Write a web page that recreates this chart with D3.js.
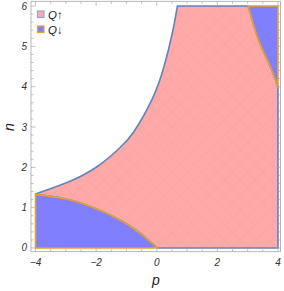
<!DOCTYPE html>
<html><head><meta charset="utf-8">
<script src="https://cdn.jsdelivr.net/npm/d3@7"></script>
<style>body{margin:0;background:#fff}svg{display:block}</style>
</head><body>
<svg id="c" width="284" height="291"></svg>
<script>
// Boundary curves: [p, n]
const upperLeftCurve = [[-4,1.34],[-2.9,1.64],[-1.96,2.02],[-1.25,2.46],[-0.75,2.89],[-0.14,3.71],[0.24,4.5],[0.52,5.35],[0.68,6]];
const lowerLeftCurve = [[-4,1.33],[-2.95,1.21],[-1.96,0.96],[-0.97,0.59],[-0.31,0.22],[0.02,0]];
const upperRightCurve = [[3.02,6],[3.27,5.35],[3.53,4.86],[3.77,4.45],[4,4]];
const xTicks = [-4,-2,0,2,4];
const yTicks = [0,1,2,3,4,5,6];
const legendLabels = ["Q↑","Q↓"];

const svg = d3.select("#c");
const x = d3.scaleLinear().domain([-4.149,4.083]).range([31,280.5]);
const y = d3.scaleLinear().domain([-0.092,6.117]).range([251.7,1.3]);

const pink="#ffaaaa", blue="#8080ff", edgeBlue="#5f85bd", orange="#e3a032";
const line = d3.line().x(d=>x(d[0])).y(d=>y(d[1])).curve(d3.curveNatural);
const straight = d3.line().x(d=>x(d[0])).y(d=>y(d[1]));

function pathOf(pieces){
  return pieces.map((p,i)=>{
    let s = (p.curve?line:straight)(p.pts);
    if(i>0) s = "L" + s.slice(1);
    return s;
  }).join("") + "Z";
}

// Pink region Q↑
const pinkPath = pathOf([
  {pts:upperLeftCurve, curve:true},
  {pts:[[0.68,6],[3.02,6]]},
  {pts:upperRightCurve, curve:true},
  {pts:[[4,4],[4,0],[0.02,0]]},
  {pts:lowerLeftCurve.slice().reverse(), curve:true}
]);
svg.append("defs").append("clipPath").attr("id","pk").append("path").attr("d",pinkPath);
svg.append("path").attr("d",pinkPath).attr("fill",pink);

// faint mesh inside pink region
const mesh = svg.append("g").attr("clip-path","url(#pk)").attr("stroke","#f08c8c").attr("stroke-width",0.5).attr("opacity",0.35);
for(let k=-10;k<=10;k+=0.5){
  mesh.append("line").attr("x1",x(k-8)).attr("y1",y(-8*0.75)).attr("x2",x(k+8)).attr("y2",y(8*0.75));
  mesh.append("line").attr("x1",x(k-8)).attr("y1",y(8*0.75)).attr("x2",x(k+8)).attr("y2",y(-8*0.75));
}
svg.append("path").attr("d",pinkPath).attr("fill","none").attr("stroke",edgeBlue).attr("stroke-width",1.6).attr("stroke-linejoin","round");

// Blue regions Q↓
const blueLL = pathOf([
  {pts:lowerLeftCurve, curve:true},
  {pts:[[0.02,0],[-4,0],[-4,1.33]]}
]);
const blueUR = pathOf([
  {pts:upperRightCurve, curve:true},
  {pts:[[4,4],[4,6],[3.02,6]]}
]);
[blueLL,blueUR].forEach(d=>{
  svg.append("path").attr("d",d).attr("fill",blue).attr("stroke",orange).attr("stroke-width",1.6).attr("stroke-linejoin","round");
});

// Frame
const fx0=31, fx1=280.5, fy0=1.3, fy1=251.7;
svg.append("rect").attr("x",fx0).attr("y",fy0).attr("width",fx1-fx0).attr("height",fy1-fy0)
  .attr("fill","none").attr("stroke","#a6a6a6").attr("stroke-width",0.8);

const tk = svg.append("g").attr("stroke","#a6a6a6").attr("stroke-width",0.7);
d3.range(-4,4.001,0.5).forEach(v=>{
  const major = Math.abs(v/2-Math.round(v/2))<1e-6;
  const L = major?4.5:2.5;
  tk.append("line").attr("x1",x(v)).attr("x2",x(v)).attr("y1",fy1).attr("y2",fy1-L);
  tk.append("line").attr("x1",x(v)).attr("x2",x(v)).attr("y1",fy0).attr("y2",fy0+L);
});
d3.range(0,6.001,0.2).forEach(v=>{
  const major = Math.abs(v-Math.round(v))<1e-6;
  const L = major?4.5:2.5;
  tk.append("line").attr("y1",y(v)).attr("y2",y(v)).attr("x1",fx0).attr("x2",fx0+L);
  tk.append("line").attr("y1",y(v)).attr("y2",y(v)).attr("x1",fx1).attr("x2",fx1-L);
});

const font = "'Liberation Sans', Arial, sans-serif";
const fmt = v => v<0 ? "\u2212"+Math.abs(v) : String(v);
svg.append("g").selectAll("text").data(xTicks).join("text")
  .attr("x",d=>x(d)).attr("y",266).attr("text-anchor","middle")
  .attr("font-family",font).attr("font-style","italic").attr("font-size",10).attr("fill","#333")
  .text(fmt);
svg.append("g").selectAll("text").data(yTicks).join("text")
  .attr("x",27).attr("y",d=>y(d)+3.5).attr("text-anchor","end")
  .attr("font-family",font).attr("font-style","italic").attr("font-size",10).attr("fill","#333")
  .text(fmt);

// axis labels
svg.append("text").attr("x",156).attr("y",285).attr("text-anchor","middle")
  .attr("font-family",font).attr("font-style","italic").attr("font-size",14).attr("fill","#222").text("p");
svg.append("text").attr("transform","translate(14,127) rotate(-90)").attr("text-anchor","middle")
  .attr("font-family",font).attr("font-style","italic").attr("font-size",14).attr("fill","#222").text("n");

// legend
const leg = svg.append("g");
const legFill=[pink,blue], legStroke=["#8fa6cf",orange];
legendLabels.forEach((t,i)=>{
  const yy = 11 + i*15;
  leg.append("rect").attr("x",37.5).attr("y",yy).attr("width",6.5).attr("height",6.5)
    .attr("fill",legFill[i]).attr("stroke",legStroke[i]).attr("stroke-width",1.2);
  const tx = leg.append("text").attr("x",48).attr("y",yy+7.5)
    .attr("font-family",font).attr("font-size",11.5).attr("fill","#222");
  tx.append("tspan").attr("font-style","italic").text(t[0]);
  tx.append("tspan").text(t.slice(1));
});
</script>
</body></html>
